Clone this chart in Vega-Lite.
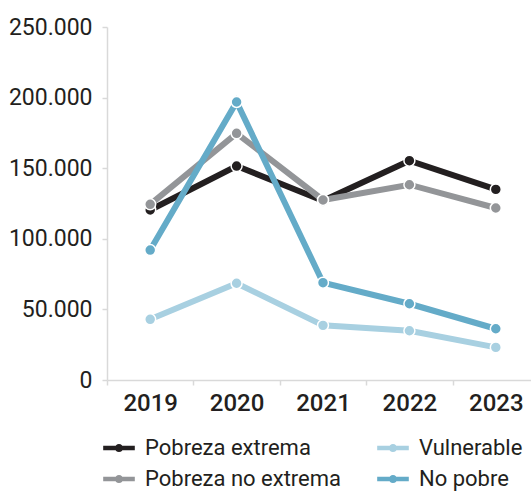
{
  "$schema": "https://vega.github.io/schema/vega-lite/v6.json",
  "autosize": {"type": "none"},
  "padding": {"left": 107, "top": 27, "right": 0, "bottom": 116},
  "width": 432,
  "height": 353,
  "config": {
    "view": {"stroke": null},
    "font": "Roboto",
    "axis": {"labelFont": "Roboto", "labelColor": "#231f20", "domainColor": "#d9d9d9", "tickColor": "#d9d9d9", "domainWidth": 1.5, "tickWidth": 1.5, "grid": false, "title": null}
  },
  "data": {
    "values": [
      {"year": "2019", "group": "Pobreza extrema", "value": 120400},
      {"year": "2020", "group": "Pobreza extrema", "value": 151500},
      {"year": "2021", "group": "Pobreza extrema", "value": 127000},
      {"year": "2022", "group": "Pobreza extrema", "value": 155300},
      {"year": "2023", "group": "Pobreza extrema", "value": 135000},
      {"year": "2019", "group": "Pobreza no extrema", "value": 124400},
      {"year": "2020", "group": "Pobreza no extrema", "value": 174700},
      {"year": "2021", "group": "Pobreza no extrema", "value": 127500},
      {"year": "2022", "group": "Pobreza no extrema", "value": 138300},
      {"year": "2023", "group": "Pobreza no extrema", "value": 121800},
      {"year": "2019", "group": "Vulnerable", "value": 43000},
      {"year": "2020", "group": "Vulnerable", "value": 68500},
      {"year": "2021", "group": "Vulnerable", "value": 38700},
      {"year": "2022", "group": "Vulnerable", "value": 34900},
      {"year": "2023", "group": "Vulnerable", "value": 23100},
      {"year": "2019", "group": "No pobre", "value": 92000},
      {"year": "2020", "group": "No pobre", "value": 196900},
      {"year": "2021", "group": "No pobre", "value": 68900},
      {"year": "2022", "group": "No pobre", "value": 54000},
      {"year": "2023", "group": "No pobre", "value": 36300}
    ]
  },
  "mark": {"type": "line", "strokeWidth": 6, "point": {"filled": true, "size": 120, "stroke": "white", "strokeWidth": 1.5}},
  "encoding": {
    "x": {
      "field": "year", "type": "ordinal",
      "scale": {"type": "band", "paddingInner": 0, "paddingOuter": 0},
      "axis": {"labelAngle": 0, "labelFontSize": 24, "labelFontWeight": 500, "tickBand": "extent", "tickSize": 5, "labelPadding": 6}
    },
    "y": {
      "field": "value", "type": "quantitative",
      "scale": {"domain": [0, 250000], "nice": false},
      "axis": {"values": [0, 50000, 100000, 150000, 200000, 250000], "labelExpr": "replace(format(datum.value, ','), ',', '.')", "labelFontSize": 23, "tickSize": 5, "labelPadding": 10}
    },
    "color": {
      "field": "group", "type": "nominal",
      "scale": {"domain": ["Pobreza extrema", "Pobreza no extrema", "Vulnerable", "No pobre"], "range": ["#231f20", "#939598", "#a8d0e1", "#64abc8"]},
      "legend": {
        "orient": "none", "legendX": -4, "legendY": 405, "columns": 2, "columnPadding": 35, "rowPadding": 4,
        "title": null,
        "symbolType": "M-1,-0.15L1,-0.15L1,0.15L-1,0.15Z M-0.26,0 A0.26,0.26 0 1,1 0.26,0 A0.26,0.26 0 1,1 -0.26,0Z",
        "symbolSize": 1000, "symbolStrokeWidth": 0,
        "labelFont": "Roboto", "labelFontSize": 22, "labelColor": "#231f20", "labelOffset": 10, "labelLimit": 400,
        "encode": {"symbols": {"update": {"fill": {"scale": "color", "field": "value"}, "opacity": {"value": 1}}}}
      }
    }
  }
}
